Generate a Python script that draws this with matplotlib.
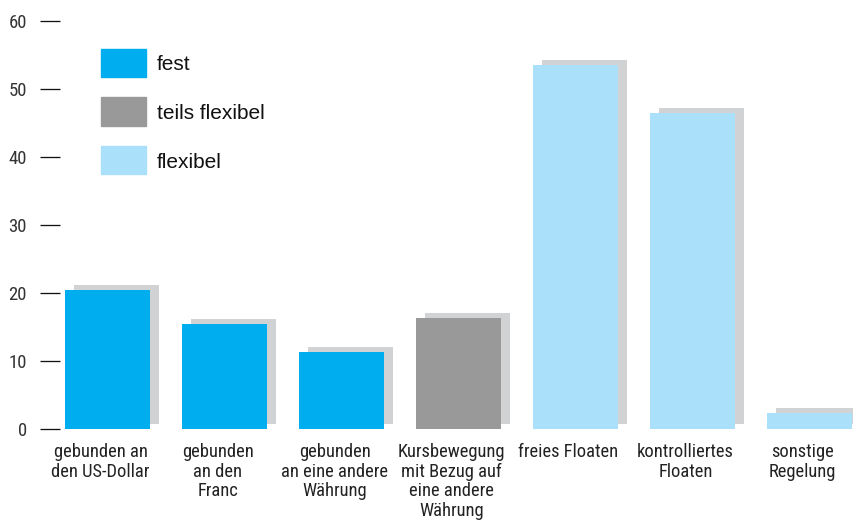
import numpy as np
import matplotlib.pyplot as plt
import matplotlib.transforms as mtransforms
from matplotlib.patches import Rectangle

# categories and values (percent of countries)
categories = [
    'gebunden an\nden US-Dollar',
    'gebunden\nan den\nFranc',
    'gebunden\nan eine andere\nWährung',
    'Kursbewegung\nmit Bezug auf\neine andere\nWährung',
    'freies Floaten',
    'kontrolliertes\nFloaten',
    'sonstige\nRegelung',
]
values = [20.4, 15.4, 11.3, 16.3, 53.5, 46.5, 2.4]
regime = ['fest', 'fest', 'fest', 'teils flexibel', 'flexibel', 'flexibel', 'flexibel']

legend_labels = ['fest', 'teils flexibel', 'flexibel']
colors = {'fest': '#00aeef', 'teils flexibel': '#999999', 'flexibel': '#abe0fa'}
shadow_color = '#d1d2d4'

narrow = ['Roboto Condensed', 'DejaVu Sans']

W, H = 854, 521
PT = 72 / 100  # points per pixel
fig = plt.figure(figsize=(W / 100, H / 100), dpi=100)
ax = fig.add_axes([60 / W, 92 / H, (854 - 60) / W, 408 / H])

x = np.arange(len(values))
bar_w = 0.73
# shadow behind each bar, shifted right/up
ax.bar(x + 0.077, values, width=bar_w, bottom=0.75, color=shadow_color,
       zorder=1, clip_on=False)
ax.bar(x, values, width=bar_w, color=[colors[r] for r in regime], zorder=2)

ax.set_xlim(-0.406, 6.38)
ax.set_ylim(0, 60)
for s in ax.spines.values():
    s.set_visible(False)

ax.set_yticks(range(0, 61, 10))
ax.tick_params(axis='y', length=20 * PT, width=1.3 * PT, color='#111111', pad=13 * PT,
               labelsize=13.5, labelcolor='#333333')
for lab in ax.get_yticklabels():
    lab.set_family(narrow)

ax.set_xticks(x)
ax.set_xticklabels(categories, family=narrow, fontsize=13.3, color='#222222',
                   linespacing=1.12, va='top')
ax.tick_params(axis='x', length=0, pad=14 * PT)
shift = mtransforms.ScaledTranslation(-7 / 100, 0, fig.dpi_scale_trans)
for lab in ax.get_xticklabels():
    lab.set_transform(lab.get_transform() + shift)

# legend boxes
for i, name in enumerate(legend_labels):
    top = 49 + i * 48.5
    fig.patches.append(Rectangle((101 / W, 1 - (top + 28) / H), 45 / W, 28 / H,
                                 transform=fig.transFigure, color=colors[name]))
    fig.text(157 / W, 1 - (top + 16) / H, name, fontsize=15,
             family=['Liberation Sans', 'DejaVu Sans'], color='#111111', va='center')

fig.savefig('out.png', dpi=100)
